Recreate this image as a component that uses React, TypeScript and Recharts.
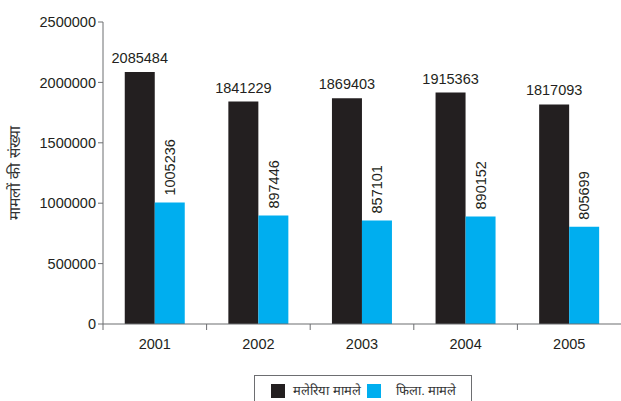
import React from 'react';
import { BarChart, Bar, XAxis, YAxis, Legend, LabelList, Label } from 'recharts';

// Cases per year
const years = ['2001', '2002', '2003', '2004', '2005'];
const malariaCases = [2085484, 1841229, 1869403, 1915363, 1817093];
const filariaCases = [1005236, 897446, 857101, 890152, 805699];
const yTicks = [0, 500000, 1000000, 1500000, 2000000, 2500000];

const malariaName = 'मलेरिया मामले';
const filariaName = '\u00a0\u00a0फिला. मामले';
const seriesOrder = [malariaName, filariaName];
const yTitle = 'मामलों की संख्या';

const data = years.map((year, i) => ({
  year,
  malaria: malariaCases[i],
  filaria: filariaCases[i],
}));

const W = 621;
const H = 401;
const MARGIN = { top: 22, right: 0, bottom: 47, left: 0 };
const Y_AXIS_W = 103;
const BAND = (W - MARGIN.left - MARGIN.right - Y_AXIS_W) / years.length;

const INK = '#231f20';
const BLUE = '#00aeef';
const AXIS = '#6d6e71';
const FONT = '"Liberation Sans", Arial, sans-serif';

const XTick = (props: any) => {
  const { x, y, payload } = props;
  return (
    <g>
      <line x1={x - BAND / 2} x2={x - BAND / 2} y1={y} y2={y + 6} stroke={AXIS} strokeWidth={1} />
      <text x={x} y={y + 25} textAnchor="middle" fill={INK} fontSize={14.5} fontFamily={FONT}>
        {payload.value}
      </text>
    </g>
  );
};

const VerticalValue = (props: any) => {
  const { x, y, width, value } = props;
  const cx = x + width / 2;
  const ty = y - 7;
  return (
    <text
      x={cx}
      y={ty}
      dy="0.36em"
      transform={`rotate(-90, ${cx}, ${ty})`}
      textAnchor="start"
      fill={INK}
      fontSize={14.5}
      fontFamily={FONT}
    >
      {value}
    </text>
  );
};

const YTitle = (props: any) => {
  const vb = props.viewBox || { x: 0, y: 0, width: 0, height: 0 };
  const cx = vb.x + 15;
  const cy = vb.y + vb.height / 2;
  return (
    <text
      x={cx}
      y={cy}
      dy="0.35em"
      transform={`rotate(-90, ${cx}, ${cy})`}
      textAnchor="middle"
      fill="#333"
      fontSize={15.5}
      fontFamily={FONT}
    >
      {yTitle}
    </text>
  );
};

const LegendBox = (props: any) => {
  const payload = [...(props.payload || [])].sort(
    (a: any, b: any) => seriesOrder.indexOf(a.value) - seriesOrder.indexOf(b.value)
  );
  return (
    <div
      style={{
        width: 218,
        height: 26,
        boxSizing: 'border-box',
        borderTop: `1px solid ${AXIS}`,
        borderLeft: `1px solid ${AXIS}`,
        borderRight: `1px solid ${AXIS}`,
        position: 'relative',
        fontFamily: FONT,
      }}
    >
      {payload.map((entry: any, i: number) => (
        <div
          key={entry.value}
          style={{
            position: 'absolute',
            left: 16 + i * 96,
            top: 8,
            display: 'flex',
            alignItems: 'center',
            whiteSpace: 'pre',
          }}
        >
          <span style={{ display: 'inline-block', width: 14, height: 14, background: entry.color }} />
          <span style={{ marginLeft: 8, fontSize: 13, color: '#333', lineHeight: '14px' }}>{entry.value}</span>
        </div>
      ))}
    </div>
  );
};

export default function App() {
  return (
    <div style={{ position: 'absolute', left: 0, top: 0, width: W, height: H, background: '#fff' }}>
      <BarChart
        width={W}
        height={H}
        data={data}
        margin={MARGIN}
        barCategoryGap="21%"
        barGap={0}
      >
        <XAxis
          dataKey="year"
          height={30}
          axisLine={{ stroke: AXIS, strokeWidth: 1.2 }}
          tickLine={false}
          tickSize={0}
          tickMargin={0}
          tick={<XTick />}
          interval={0}
        />
        <YAxis
          width={Y_AXIS_W}
          domain={[0, 2500000]}
          ticks={yTicks}
          interval={0}
          axisLine={{ stroke: AXIS, strokeWidth: 1 }}
          tickLine={{ stroke: AXIS }}
          tickSize={5}
          tickMargin={2}
          tick={{ fill: INK, fontSize: 14.5, fontFamily: FONT }}
        >
          <Label content={<YTitle />} />
        </YAxis>
        <Legend
          layout="horizontal"
          verticalAlign="middle"
          align="center"
          content={<LegendBox />}
          wrapperStyle={{ left: 254, top: 375, width: 218, height: 26 }}
        />
        <Bar dataKey="malaria" name={malariaName} fill={INK} isAnimationActive={false}>
          <LabelList
            dataKey="malaria"
            position="top"
            offset={9}
            fill={INK}
            fontSize={14.5}
            fontFamily={FONT}
          />
        </Bar>
        <Bar dataKey="filaria" name={filariaName} fill={BLUE} isAnimationActive={false}>
          <LabelList dataKey="filaria" content={<VerticalValue />} />
        </Bar>
      </BarChart>
    </div>
  );
}
